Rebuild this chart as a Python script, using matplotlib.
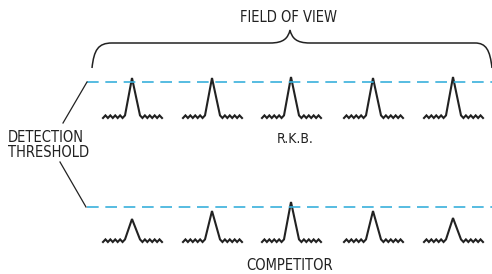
import numpy as np
import matplotlib
matplotlib.use("Agg")
import matplotlib.pyplot as plt
from matplotlib.path import Path
from matplotlib.patches import PathPatch

plt.rcParams['font.family'] = ['DejaVu Sans']
plt.rcParams['font.stretch'] = 'condensed'

# pulse positions across the field of view (pixel columns)
pulse_x = [132, 212, 291, 373, 453]
# pulse heights above baseline (pixels)
rkb_heights = [40, 40, 41, 40, 41]
competitor_heights = [23, 31, 40, 31, 24]

rkb_base, rkb_threshold = 118, 82
comp_base, comp_threshold = 242, 207

ink = '#222222'
blue = '#3ab0dc'

fig = plt.figure(figsize=(4.92, 2.74), dpi=100)
ax = fig.add_axes([0, 0, 1, 1])
ax.set_xlim(0, 492)
ax.set_ylim(274, 0)
ax.axis('off')


def pulse(cx, base, h):
    # noisy baseline, spike, noisy baseline
    teeth = np.tile([0.0, -2.6], 5)
    lx = np.linspace(cx - 29, cx - 7, len(teeth))
    rx = np.linspace(cx + 8, cx + 30, len(teeth))
    xs = np.concatenate([lx, [cx], rx])
    ys = np.concatenate([base + teeth, [base - h], base + teeth[::-1]])
    ax.plot(xs, ys, color=ink, lw=1.5, solid_joinstyle='miter')


for cx, h in zip(pulse_x, rkb_heights):
    pulse(cx, rkb_base, h)
for cx, h in zip(pulse_x, competitor_heights):
    pulse(cx, comp_base, h)

# detection thresholds
for ty in (rkb_threshold, comp_threshold):
    ax.plot([87, 492], [ty, ty], color=blue, lw=1.2, dashes=(7, 4))

# leader lines from label
ax.plot([63, 87], [123, 82], color=ink, lw=0.9)
ax.plot([60, 86], [162, 207], color=ink, lw=0.9)

# brace over field of view
verts = [(92, 68), (94, 50), (98, 43), (112, 43),
         (270, 43),
         (284, 43), (288, 38), (290, 30),
         (292, 38), (296, 43), (310, 43),
         (475, 43),
         (486, 43), (490, 50), (492, 68)]
codes = [Path.MOVETO, Path.CURVE4, Path.CURVE4, Path.CURVE4,
         Path.LINETO,
         Path.CURVE4, Path.CURVE4, Path.CURVE4,
         Path.CURVE4, Path.CURVE4, Path.CURVE4,
         Path.LINETO,
         Path.CURVE4, Path.CURVE4, Path.CURVE4]
ax.add_patch(PathPatch(Path(verts, codes), fill=False, ec=ink, lw=1.1))

ax.text(289, 17, 'FIELD OF VIEW', ha='center', va='center', fontsize=10.5, color=ink)
ax.text(8, 145, 'DETECTION\nTHRESHOLD', ha='left', va='center', fontsize=10.5,
        color=ink, linespacing=1.05)
ax.text(295, 139, 'R.K.B.', ha='center', va='center', fontsize=10, color=ink)
ax.text(290, 265, 'COMPETITOR', ha='center', va='center', fontsize=10.5, color=ink)

fig.savefig('out.png', dpi=100, facecolor='white')
